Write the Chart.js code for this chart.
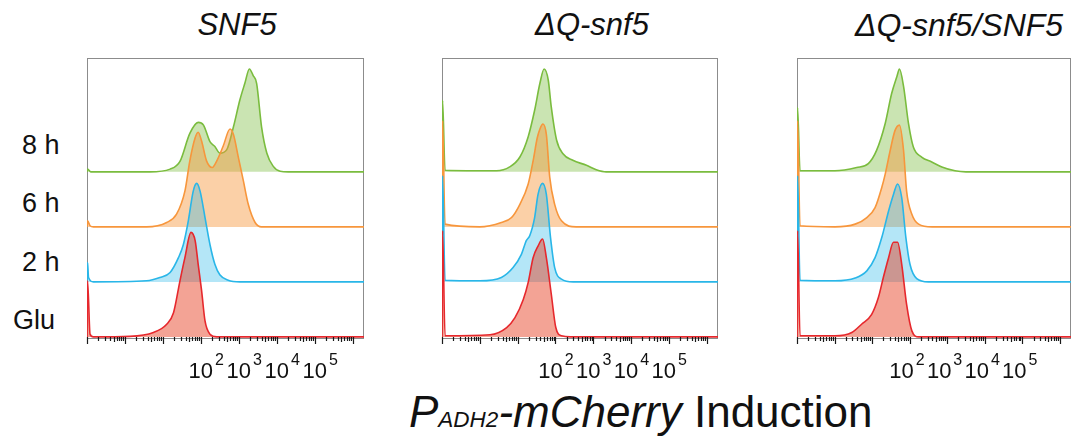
<!DOCTYPE html>
<html>
<head>
<meta charset="utf-8">
<script src="https://cdn.jsdelivr.net/npm/chart.js@4.4.1/dist/chart.umd.min.js"></script>
<style>
  html, body { margin: 0; padding: 0; background: #fff; overflow: hidden; }
  #wrap { position: relative; width: 1073px; height: 443px; font-family: 'Liberation Sans', Arial, sans-serif; color: #111; }
  #wrap canvas { position: absolute; }
  .txt { position: absolute; white-space: nowrap; line-height: 1; }
  .title { font-size: 31px; font-style: italic; transform: translateX(-50%); }
  .row { font-size: 27px; }
</style>
</head>
<body>
<div id="wrap">
  <div class="txt title" style="left:237px; top:9px;">SNF5</div>
  <div class="txt title" style="left:592px; top:9px;">ΔQ-snf5</div>
  <div class="txt title" style="left:959px; top:9px; font-size:32px;">ΔQ-snf5/SNF5</div>

  <div class="txt row" style="left:22px; top:132px;">8 h</div>
  <div class="txt row" style="left:22px; top:190px;">6 h</div>
  <div class="txt row" style="left:22px; top:249px;">2 h</div>
  <div class="txt row" style="left:13px; top:307px;">Glu</div>

  <div class="txt" style="left:409px; top:390px; font-size:44px;"><i>P<span style="font-size:22.5px">ADH2</span>-mCherry</i> Induction</div>

  <canvas id="c0"></canvas>
  <canvas id="c1"></canvas>
  <canvas id="c2"></canvas>
</div>

<script>
// x in decades (log10 of fluorescence), y = height of the histogram above its row
const rows = ['Glu', '2 h', '6 h', '8 h'];
const tickExps = [2, 3, 4, 5];

// SNF5
const snf5Glu = [[-1,0],[-0.985,1.02],[-0.92,0.05],[-0.83,0],[0.13,0.01],[0.75,0.08],[1.1,0.23],[1.28,0.44],[1.45,1.02],[1.58,1.44],[1.74,1.9],[1.85,1.75],[1.93,1.32],[2.02,0.84],[2.11,0.29],[2.24,0.05],[2.42,0],[6.3,0]];
const snf5H2 = [[-1,0],[-0.985,0.35],[-0.96,0.08],[-0.83,0],[0.57,0.02],[0.92,0.08],[1.19,0.17],[1.41,0.44],[1.54,0.68],[1.67,1.11],[1.8,1.65],[1.89,1.79],[1.98,1.65],[2.11,1.17],[2.24,0.68],[2.37,0.32],[2.5,0.13],[2.72,0.03],[3.03,0],[6.3,0]];
const snf5H6 = [[-1,0],[-0.985,0.11],[-0.92,0.02],[-0.83,0],[0.57,0],[1.1,0.08],[1.36,0.23],[1.58,0.65],[1.71,1.2],[1.85,1.62],[1.93,1.72],[2.02,1.56],[2.15,1.2],[2.3,1.08],[2.42,1.2],[2.59,1.47],[2.77,1.78],[2.86,1.68],[2.99,1.26],[3.12,0.84],[3.25,0.41],[3.43,0.08],[3.6,0],[6.3,0]];
const snf5H8 = [[-1,0],[-0.985,0.05],[-0.9,0],[0.66,0],[1.19,0.05],[1.45,0.19],[1.71,0.7],[1.93,0.9],[2.07,0.85],[2.24,0.55],[2.37,0.46],[2.5,0.34],[2.68,0.4],[2.86,0.82],[3.03,1.31],[3.16,1.61],[3.28,1.87],[3.38,1.75],[3.47,1.61],[3.6,0.82],[3.74,0.34],[3.91,0.1],[4.09,0.01],[4.3,0],[6.3,0]];

// ΔQ-snf5
const dqGlu = [[-1,0],[-0.985,1.93],[-0.92,0.02],[0.27,0.04],[0.71,0.17],[0.93,0.35],[1.15,0.68],[1.28,0.99],[1.41,1.44],[1.54,1.65],[1.66,1.78],[1.76,1.44],[1.89,0.78],[2.01,0.17],[2.16,0.02],[2.4,0],[6.3,0]];
const dqH2 = [[-1,0],[-0.985,1.93],[-0.92,0.03],[0,0.02],[0.57,0.08],[0.88,0.26],[1.1,0.5],[1.23,0.75],[1.32,0.84],[1.45,1.17],[1.54,1.59],[1.66,1.79],[1.76,1.59],[1.87,0.81],[1.98,0.26],[2.16,0.05],[2.47,0],[6.3,0]];
const dqH6 = [[-1,0],[-0.985,1.93],[-0.92,0.05],[0,0],[0.57,0.08],[0.84,0.17],[1.06,0.41],[1.28,0.78],[1.41,1.2],[1.52,1.62],[1.59,1.78],[1.67,1.87],[1.76,1.68],[1.85,0.9],[1.98,0.41],[2.16,0.11],[2.55,0],[6.3,0]];
const dqH8 = [[-1,0],[-0.985,1.3],[-0.92,0.03],[0.44,0.02],[0.79,0.09],[1.06,0.27],[1.28,0.64],[1.45,1.12],[1.59,1.61],[1.7,1.87],[1.81,1.67],[1.89,1.18],[2.03,0.58],[2.2,0.33],[2.46,0.21],[2.82,0.12],[3.08,0.04],[3.34,0],[6.3,0]];

// ΔQ-snf5/SNF5
const dqsGlu = [[-1,0],[-0.985,1.93],[-0.92,0.02],[0.01,0.02],[0.46,0.08],[0.72,0.23],[0.99,0.41],[1.17,0.72],[1.3,1.08],[1.44,1.44],[1.57,1.72],[1.68,1.72],[1.79,1.32],[1.92,0.59],[2.06,0.11],[2.24,0],[6.3,0]];
const dqsH2 = [[-1,0],[-0.985,1.93],[-0.92,0.03],[0.01,0.02],[0.55,0.07],[0.86,0.2],[1.08,0.44],[1.26,0.81],[1.44,1.29],[1.57,1.59],[1.68,1.78],[1.79,1.53],[1.9,0.81],[2.01,0.32],[2.19,0.06],[2.5,0],[6.3,0]];
const dqsH6 = [[-1,0],[-0.985,1.93],[-0.92,0.02],[0.01,0],[0.55,0.05],[0.86,0.17],[1.08,0.35],[1.26,0.72],[1.35,0.96],[1.48,1.38],[1.61,1.75],[1.73,1.85],[1.84,1.38],[1.92,0.65],[2.06,0.23],[2.24,0.05],[2.6,0],[6.3,0]];
const dqsH8 = [[-1,0],[-0.985,1.17],[-0.92,0.02],[0.01,0.02],[0.59,0.08],[0.9,0.15],[1.12,0.39],[1.35,0.88],[1.52,1.42],[1.66,1.73],[1.73,1.87],[1.84,1.55],[1.97,0.88],[2.1,0.45],[2.32,0.27],[2.59,0.18],[2.86,0.09],[3.21,0.02],[3.5,0],[6.3,0]];

const lineColors = ['rgb(230,40,45)', 'rgb(41,182,232)', 'rgb(247,150,60)', 'rgb(122,188,62)'];
const fillColors = ['rgba(230,60,30,0.47)', 'rgba(41,182,232,0.35)', 'rgba(247,150,60,0.45)', 'rgba(122,188,62,0.4)'];

// panel placement on the page (plot area)
const panels = [
  { id: 'c0', left: 87, width: 277, labelShift: 0, series: [snf5Glu, snf5H2, snf5H6, snf5H8] },
  { id: 'c1', left: 442, width: 276, labelShift: -5, series: [dqGlu, dqH2, dqH6, dqH8] },
  { id: 'c2', left: 797, width: 274, labelShift: -8, series: [dqsGlu, dqsH2, dqsH6, dqsH8] }
];
const plotTop = 58, plotH = 280, pad = 4, padBottom = 50;

const frameTicks = {
  id: 'frameTicks',
  beforeDatasetsDraw(chart) {
    const { ctx, chartArea: a } = chart;
    ctx.save();
    ctx.strokeStyle = '#8c8c8c';
    ctx.lineWidth = 1;
    ctx.strokeRect(a.left + 0.5, a.top + 0.5, a.right - a.left - 1, a.bottom - a.top);
    ctx.restore();
  },
  afterDraw(chart, args, opts) {
    const { ctx, chartArea: a, scales: { x } } = chart;
    ctx.save();
    ctx.strokeStyle = '#1a1a1a';
    ctx.lineWidth = 1.2;
    ctx.beginPath();
    for (let d = -1; d <= 6; d++) {
      for (let k = 1; k <= 9; k++) {
        const v = d + Math.log10(k);
        if (v > x.max) break;
        const px = Math.round(x.getPixelForValue(v)) + 0.5;
        const len = k === 1 ? 6 : (k === 5 ? 4 : 3);
        ctx.moveTo(px, a.bottom - 1);
        ctx.lineTo(px, a.bottom + len);
      }
    }
    ctx.stroke();

    // 10^n labels
    ctx.fillStyle = '#111';
    ctx.textBaseline = 'alphabetic';
    ctx.textAlign = 'left';
    tickExps.forEach(e => {
      const px = x.getPixelForValue(e) + opts.shift;
      ctx.font = '22px "Liberation Sans", Arial, sans-serif';
      const w = ctx.measureText('10').width;
      ctx.fillText('10', px - w / 2, a.bottom + 40);
      ctx.font = '16px "Liberation Sans", Arial, sans-serif';
      ctx.fillText(String(e), px + w / 2 + 2, a.bottom + 27);
    });
    ctx.restore();
  }
};

panels.forEach(p => {
  const cv = document.getElementById(p.id);
  cv.width = p.width + 2 * pad;
  cv.height = plotH + pad + padBottom;
  cv.style.left = (p.left - pad) + 'px';
  cv.style.top = (plotTop - pad) + 'px';

  // red first so it is drawn on top, green last (behind)
  const datasets = p.series.map((s, i) => ({
    label: rows[i],
    data: s.map(pt => ({ x: pt[0], y: pt[1] + i })),
    borderColor: lineColors[i],
    backgroundColor: fillColors[i],
    borderWidth: 1.6,
    fill: { value: i },
    pointRadius: 0,
    cubicInterpolationMode: 'monotone'
  }));

  new Chart(cv, {
    type: 'line',
    data: { datasets },
    options: {
      responsive: false,
      animation: false,
      devicePixelRatio: 1,
      layout: { padding: { left: pad, right: pad, top: pad, bottom: padBottom } },
      plugins: {
        legend: { display: false },
        tooltip: { enabled: false },
        frameTicks: { shift: p.labelShift }
      },
      scales: {
        x: { type: 'linear', min: -1, max: 6.3, display: false },
        y: { min: -0.02, max: 5.07, display: false }
      }
    },
    plugins: [frameTicks]
  });
});
</script>
</body>
</html>
